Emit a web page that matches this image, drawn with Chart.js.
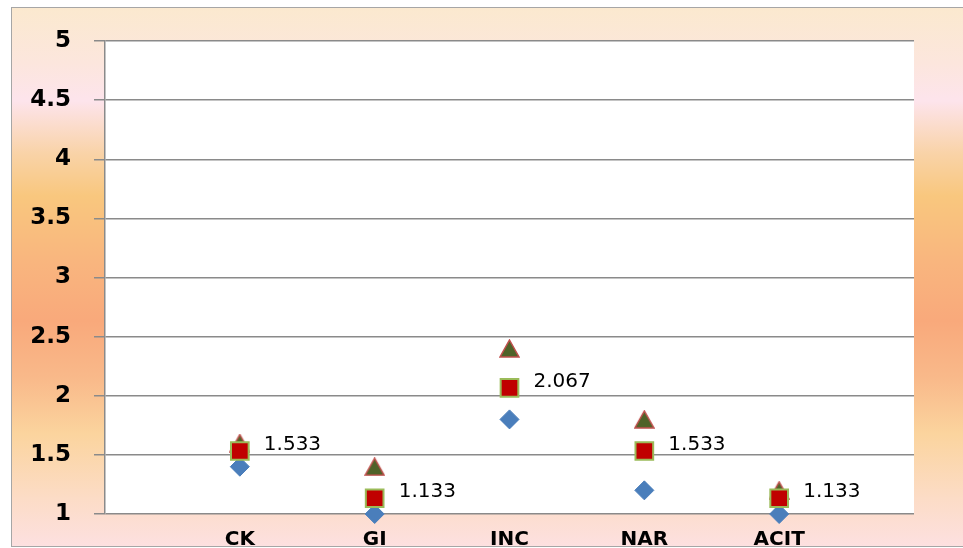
<!DOCTYPE html>
<html>
<head>
<meta charset="utf-8">
<script src="https://cdn.jsdelivr.net/npm/chart.js@4.4.1/dist/chart.umd.min.js"></script>
<style>
  body { margin: 0; background: #fff; }
  #frame {
    position: absolute; left: 11px; top: 7px; width: 960px; height: 538px;
    border: 1px solid #a6a6a6;
    background: linear-gradient(to bottom,
      #fbe9cf 0px, #fce6dd 55px, #fde4ec 93px, #f9d3a8 145px, #f9c77e 188px,
      #f9b57e 255px, #f9a97b 313px, #f9b98a 370px, #fbd49e 426px, #fcdcc6 490px, #fde0e0 538px);
  }
  #grafic { position: absolute; left: 0; top: 0; }
</style>
</head>
<body>
<div id="frame"></div>
<canvas id="grafic" width="963" height="548"></canvas>
<script>
let context = document.getElementById('grafic').getContext('2d');

// categories (blank slots at both ends, like the original axis)
const categories = ['', 'CK', 'GI', 'INC', 'NAR', 'ACIT', ''];
const diamondValues = [null, 1.4, 1.0, 1.8, 1.2, 1.0, null];
const squareValues = [null, 1.533, 1.133, 2.067, 1.533, 1.133, null];
const triangleValues = [null, 1.6, 1.4, 2.4, 1.8, 1.2, null];
const yTicks = [1, 1.5, 2, 2.5, 3, 3.5, 4, 4.5, 5];

// triangle marker centred on its box
const tri = document.createElement('canvas');
tri.width = 21; tri.height = 19;
const t = tri.getContext('2d');
t.beginPath();
t.moveTo(10.5, 1);
t.lineTo(20, 18);
t.lineTo(1, 18);
t.closePath();
t.fillStyle = '#4f6228';
t.fill();
t.lineWidth = 1.5;
t.strokeStyle = '#c0504d';
t.stroke();

const plotBg = {
    id: 'plotBg',
    beforeDraw(chart) {
        const a = chart.chartArea;
        const c = chart.ctx;
        c.save();
        c.fillStyle = '#ffffff';
        c.fillRect(a.left, a.top, a.right - a.left, a.bottom - a.top);
        c.restore();
    }
};

const squareLabels = {
    id: 'squareLabels',
    afterDatasetsDraw(chart) {
        const c = chart.ctx;
        const meta = chart.getDatasetMeta(1);
        c.save();
        c.font = '20px "DejaVu Sans"';
        c.fillStyle = '#000';
        c.textAlign = 'left';
        c.textBaseline = 'middle';
        meta.data.forEach((pt, i) => {
            const v = squareValues[i];
            if (v === null) return;
            c.fillText(v.toFixed(3), pt.x + 24, pt.y - 6);
        });
        c.restore();
    }
};

new Chart(context, {
    type: 'line',
    data: {
        labels: categories,
        datasets: [
            {
                data: diamondValues,
                showLine: false,
                pointStyle: 'rectRot',
                pointRadius: 9.5,
                backgroundColor: '#4a7ebb',
                borderColor: '#4a7ebb',
                borderWidth: 1,
                clip: false,
                order: 1
            },
            {
                data: squareValues,
                showLine: false,
                pointStyle: 'rect',
                pointRadius: 12.5,
                backgroundColor: '#c00000',
                borderColor: '#9bbb59',
                borderWidth: 2,
                clip: false,
                order: 0
            },
            {
                data: triangleValues,
                showLine: false,
                pointStyle: tri,
                pointRadius: 10,
                clip: false,
                order: 2
            }
        ]
    },
    options: {
        responsive: false,
        animation: false,
        layout: { padding: { left: 0, top: 41, right: 49, bottom: 0 } },
        plugins: {
            legend: { display: false },
            tooltip: { enabled: false }
        },
        scales: {
            x: {
                offset: false,
                grid: { display: false },
                border: { display: false },
                ticks: {
                    autoSkip: false,
                    maxRotation: 0,
                    padding: 6,
                    color: '#000',
                    font: { family: 'DejaVu Sans', size: 20, weight: 'bold' }
                },
                afterFit(scale) { scale.height = 34; }
            },
            y: {
                min: 1,
                max: 5,
                afterBuildTicks(scale) { scale.ticks = yTicks.map(v => ({ value: v })); },
                ticks: {
                    padding: 23,
                    color: '#000',
                    font: { family: 'DejaVu Sans', size: 23, weight: 'bold' },
                    callback: v => String(v)
                },
                grid: {
                    color: '#8a8a8a',
                    lineWidth: 1.5,
                    tickLength: 11,
                    tickColor: '#8a8a8a'
                },
                border: { color: '#8a8a8a', width: 1.5 },
                afterFit(scale) {
                    scale.width = 105;
                    scale.paddingTop = 0;
                    scale.paddingBottom = 0;
                }
            }
        }
    },
    plugins: [plotBg, squareLabels]
});
</script>
</body>
</html>
